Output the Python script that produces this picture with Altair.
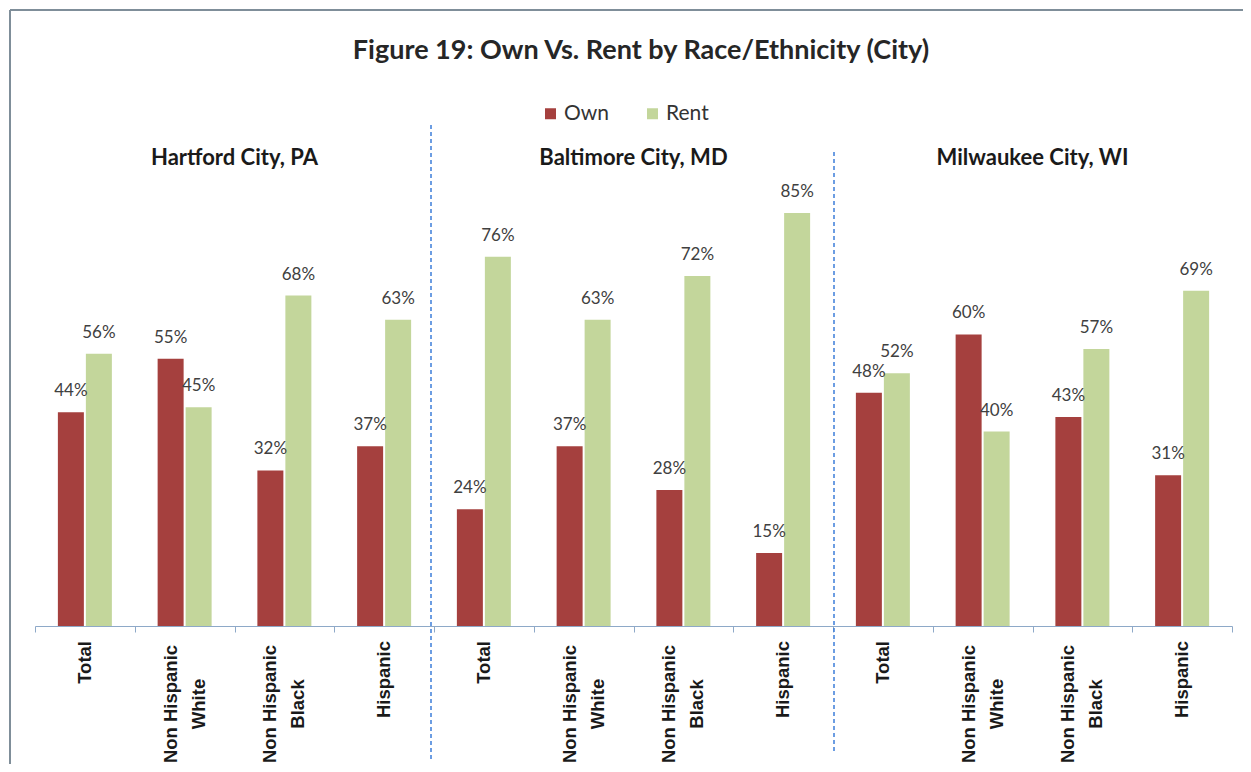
import altair as alt
import pandas as pd

title_text = "Figure 19: Own Vs. Rent by Race/Ethnicity (City)"
cities = ["Hartford City, PA", "Baltimore City, MD", "Milwaukee City, WI"]
groups = ["Total", "Non Hispanic|White", "Non Hispanic|Black", "Hispanic"]
series = ["Own", "Rent"]
own = [44, 55, 32, 37, 24, 37, 28, 15, 48, 60, 43, 31]
rent = [56, 45, 68, 63, 76, 63, 72, 85, 52, 40, 57, 69]
colors = ["#A5403E", "#C3D69B"]

keys = [f"{ci}:{g}" for ci in range(len(cities)) for g in groups]
rows = []
for k, o, r in zip(keys, own, rent):
    rows.append({"key": k, "type": "Own", "value": o, "label": f"{o}%"})
    rows.append({"key": k, "type": "Rent", "value": r, "label": f"{r}%"})
df = pd.DataFrame(rows)

single, multi = [], []
for k in keys:
    parts = k.split(":", 1)[1].split("|")
    if len(parts) == 1:
        single.append({"key": k, "t": parts[0]})
    else:
        multi.append({"key": k, "l1": parts[0], "l2": parts[1]})
df_single = pd.DataFrame(single)
df_multi = pd.DataFrame(multi)

W, H = 1197, 486
step = W / len(keys)

x_scale = alt.Scale(paddingInner=0, paddingOuter=0)
x_enc = alt.X(
    "key:N", sort=keys, scale=x_scale,
    axis=alt.Axis(
        title=None, labels=False, tickBand="extent", tickSize=6,
        tickColor="#8EA9C8", domainColor="#8EA9C8", tickWidth=1, domainWidth=1,
    ),
)
xoff = alt.XOffset("type:N", sort=series,
                   scale=alt.Scale(paddingInner=0.0714, paddingOuter=0.817))
y_enc = alt.Y("value:Q", scale=alt.Scale(domain=[0, 100]), axis=None)

base = alt.Chart(df)
bars = base.mark_bar().encode(
    x=x_enc, xOffset=xoff, y=y_enc,
    color=alt.Color(
        "type:N", scale=alt.Scale(domain=series, range=colors),
        legend=alt.Legend(
            title=None, orient="none", legendX=505, legendY=-37,
            direction="horizontal", symbolType="square", symbolSize=121,
            symbolStrokeWidth=0, labelFont="Lato", labelFontSize=21,
            labelColor="#333333", columnPadding=32, labelOffset=3,
        ),
    ),
)
texts = base.mark_text(
    baseline="bottom", dy=-12, font="Lato", fontSize=17, color="#404040"
).encode(x=x_enc, xOffset=xoff, y=y_enc, text="label:N")

lab_style = dict(font="Liberation Sans", fontWeight="bold", fontSize=18.5,
                 color="#1a1a1a", angle=270, baseline="middle")
lab_single = alt.Chart(df_single).mark_text(align="right", **lab_style).encode(
    x=alt.X("key:N", sort=keys, scale=x_scale), y=alt.value(H + 15), text="t:N"
)
lab_m1 = alt.Chart(df_multi).mark_text(align="center", dy=-14, **lab_style).encode(
    x=alt.X("key:N", sort=keys, scale=x_scale), y=alt.value(H + 78), text="l1:N"
)
lab_m2 = alt.Chart(df_multi).mark_text(align="center", dy=14, **lab_style).encode(
    x=alt.X("key:N", sort=keys, scale=x_scale), y=alt.value(H + 78), text="l2:N"
)

layers = [bars, texts, lab_single, lab_m1, lab_m2]

layers.append(
    alt.Chart(pd.DataFrame({"t": [title_text]})).mark_text(
        font="Lato", fontSize=27, fontWeight="bold", color="#262626",
        baseline="middle", align="center",
    ).encode(x=alt.value(606), y=alt.value(-89), text="t:N")
)

for i, c in enumerate(cities):
    layers.append(
        alt.Chart(pd.DataFrame({"t": [c]})).mark_text(
            font="Lato", fontSize=22, fontWeight="bold", color="#1a1a1a",
            baseline="middle", align="center",
        ).encode(x=alt.value(step * (2 + 4 * i)), y=alt.value(18), text="t:N")
    )

sep = [(4 * step - 3, -15, 620), (8 * step + 1, 12, 612)]
for xs, y1, y2 in sep:
    layers.append(
        alt.Chart(pd.DataFrame({"a": [0]})).mark_rule(
            color="#3C7DD9", strokeWidth=1.5, strokeDash=[4, 3]
        ).encode(x=alt.value(xs), y=alt.value(y1), y2=alt.value(y2))
    )

# outer frame
layers.append(
    alt.Chart(pd.DataFrame({"a": [0]})).mark_rule(color="#7F8E99", strokeWidth=2).encode(
        x=alt.value(-25), y=alt.value(-130), y2=alt.value(H + 140)
    )
)
layers.append(
    alt.Chart(pd.DataFrame({"a": [0]})).mark_rule(color="#7F8E99", strokeWidth=2).encode(
        x=alt.value(-25), x2=alt.value(W + 30), y=alt.value(-130)
    )
)

chart = alt.layer(*layers).properties(
    width=W, height=H,
    autosize=alt.AutoSizeParams(type="none"),
    padding={"left": 27, "top": 132, "right": 11, "bottom": 138},
).configure_view(strokeWidth=0, stroke=None)

chart.save("out.html", embed_options={"renderer": "svg", "actions": False})
